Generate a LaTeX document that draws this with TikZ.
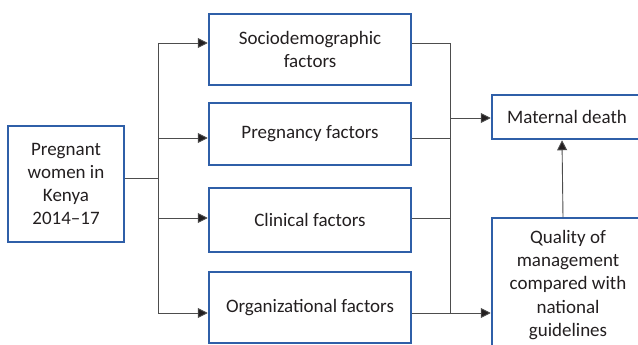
\documentclass[tikz,border=0pt]{standalone}
\usepackage{fontspec}
\setmainfont{Carlito}
\usetikzlibrary{arrows.meta}
\definecolor{boxblue}{HTML}{2F5FA8}
\definecolor{txt}{HTML}{231F20}
\definecolor{linegray}{HTML}{4D4D4D}
\begin{document}
\begin{tikzpicture}[x=1pt,y=-1pt,
  box/.style={draw=boxblue,line width=1.3pt,align=center,text=txt,font=\fontsize{19}{23.3}\selectfont,inner sep=0pt},
  conn/.style={draw=linegray,line width=0.9pt},
  arr/.style={conn,-{Triangle[length=10pt,width=10pt,fill=txt]},shorten >=0.6pt}]
\useasboundingbox (0,0) rectangle (638,345);
\clip (0,0) rectangle (638,345);
\node[box,minimum width=116pt,minimum height=116pt] (preg) at (66,184) {Pregnant\\women in\\Kenya\\2014–17};
\node[box,minimum width=202pt,minimum height=71pt] (socio) at (310,49.5) {Sociodemographic\\factors};
\node[box,minimum width=202pt,minimum height=62pt] (pregf) at (310,134) {Pregnancy factors};
\node[box,minimum width=202pt,minimum height=64pt] (clin) at (310,220) {Clinical factors};
\node[box,minimum width=202pt,minimum height=71pt] (org) at (310,307.5) {Organizational factors};
\node[box,minimum width=150pt,minimum height=44pt] (mat) at (567,117) {Maternal death};
\node[box,minimum width=152pt,minimum height=134pt] (qual) at (568,285) {Quality of\\management\\compared with\\national\\guidelines};
% left fan-out
\coordinate (j) at (158,178);
\coordinate (b1) at (158,43);
\coordinate (b2) at (158,138);
\coordinate (b3) at (158,218);
\coordinate (b4) at (158,313);
\draw[conn] ([yshift=6pt]preg.east) -- (j);
\draw[conn] (b1) -- (b4);
\draw[arr] (b1) -- (socio.west |- b1);
\draw[arr] (b2) -- (pregf.west |- b2);
\draw[arr] (b3) -- (clin.west |- b3);
\draw[arr] (b4) -- (org.west |- b4);
% right fan-in
\coordinate (r1) at (450,43);
\coordinate (r2) at (450,138);
\coordinate (r3) at (450,218);
\coordinate (r4) at (450,313);
\coordinate (rm) at (450,118);
\draw[conn] (socio.east |- r1) -- (r1) -- (r4);
\draw[conn] (pregf.east |- r2) -- (r2);
\draw[conn] (clin.east |- r3) -- (r3);
\draw[conn] (org.east |- r4) -- (r4);
\draw[arr] (rm) -- (mat.west |- rm);
\draw[arr] (r4) -- (qual.west |- r4);
\draw[arr] ([xshift=-5pt]qual.north) -- ([xshift=-5pt]mat.south);
\end{tikzpicture}
\end{document}
